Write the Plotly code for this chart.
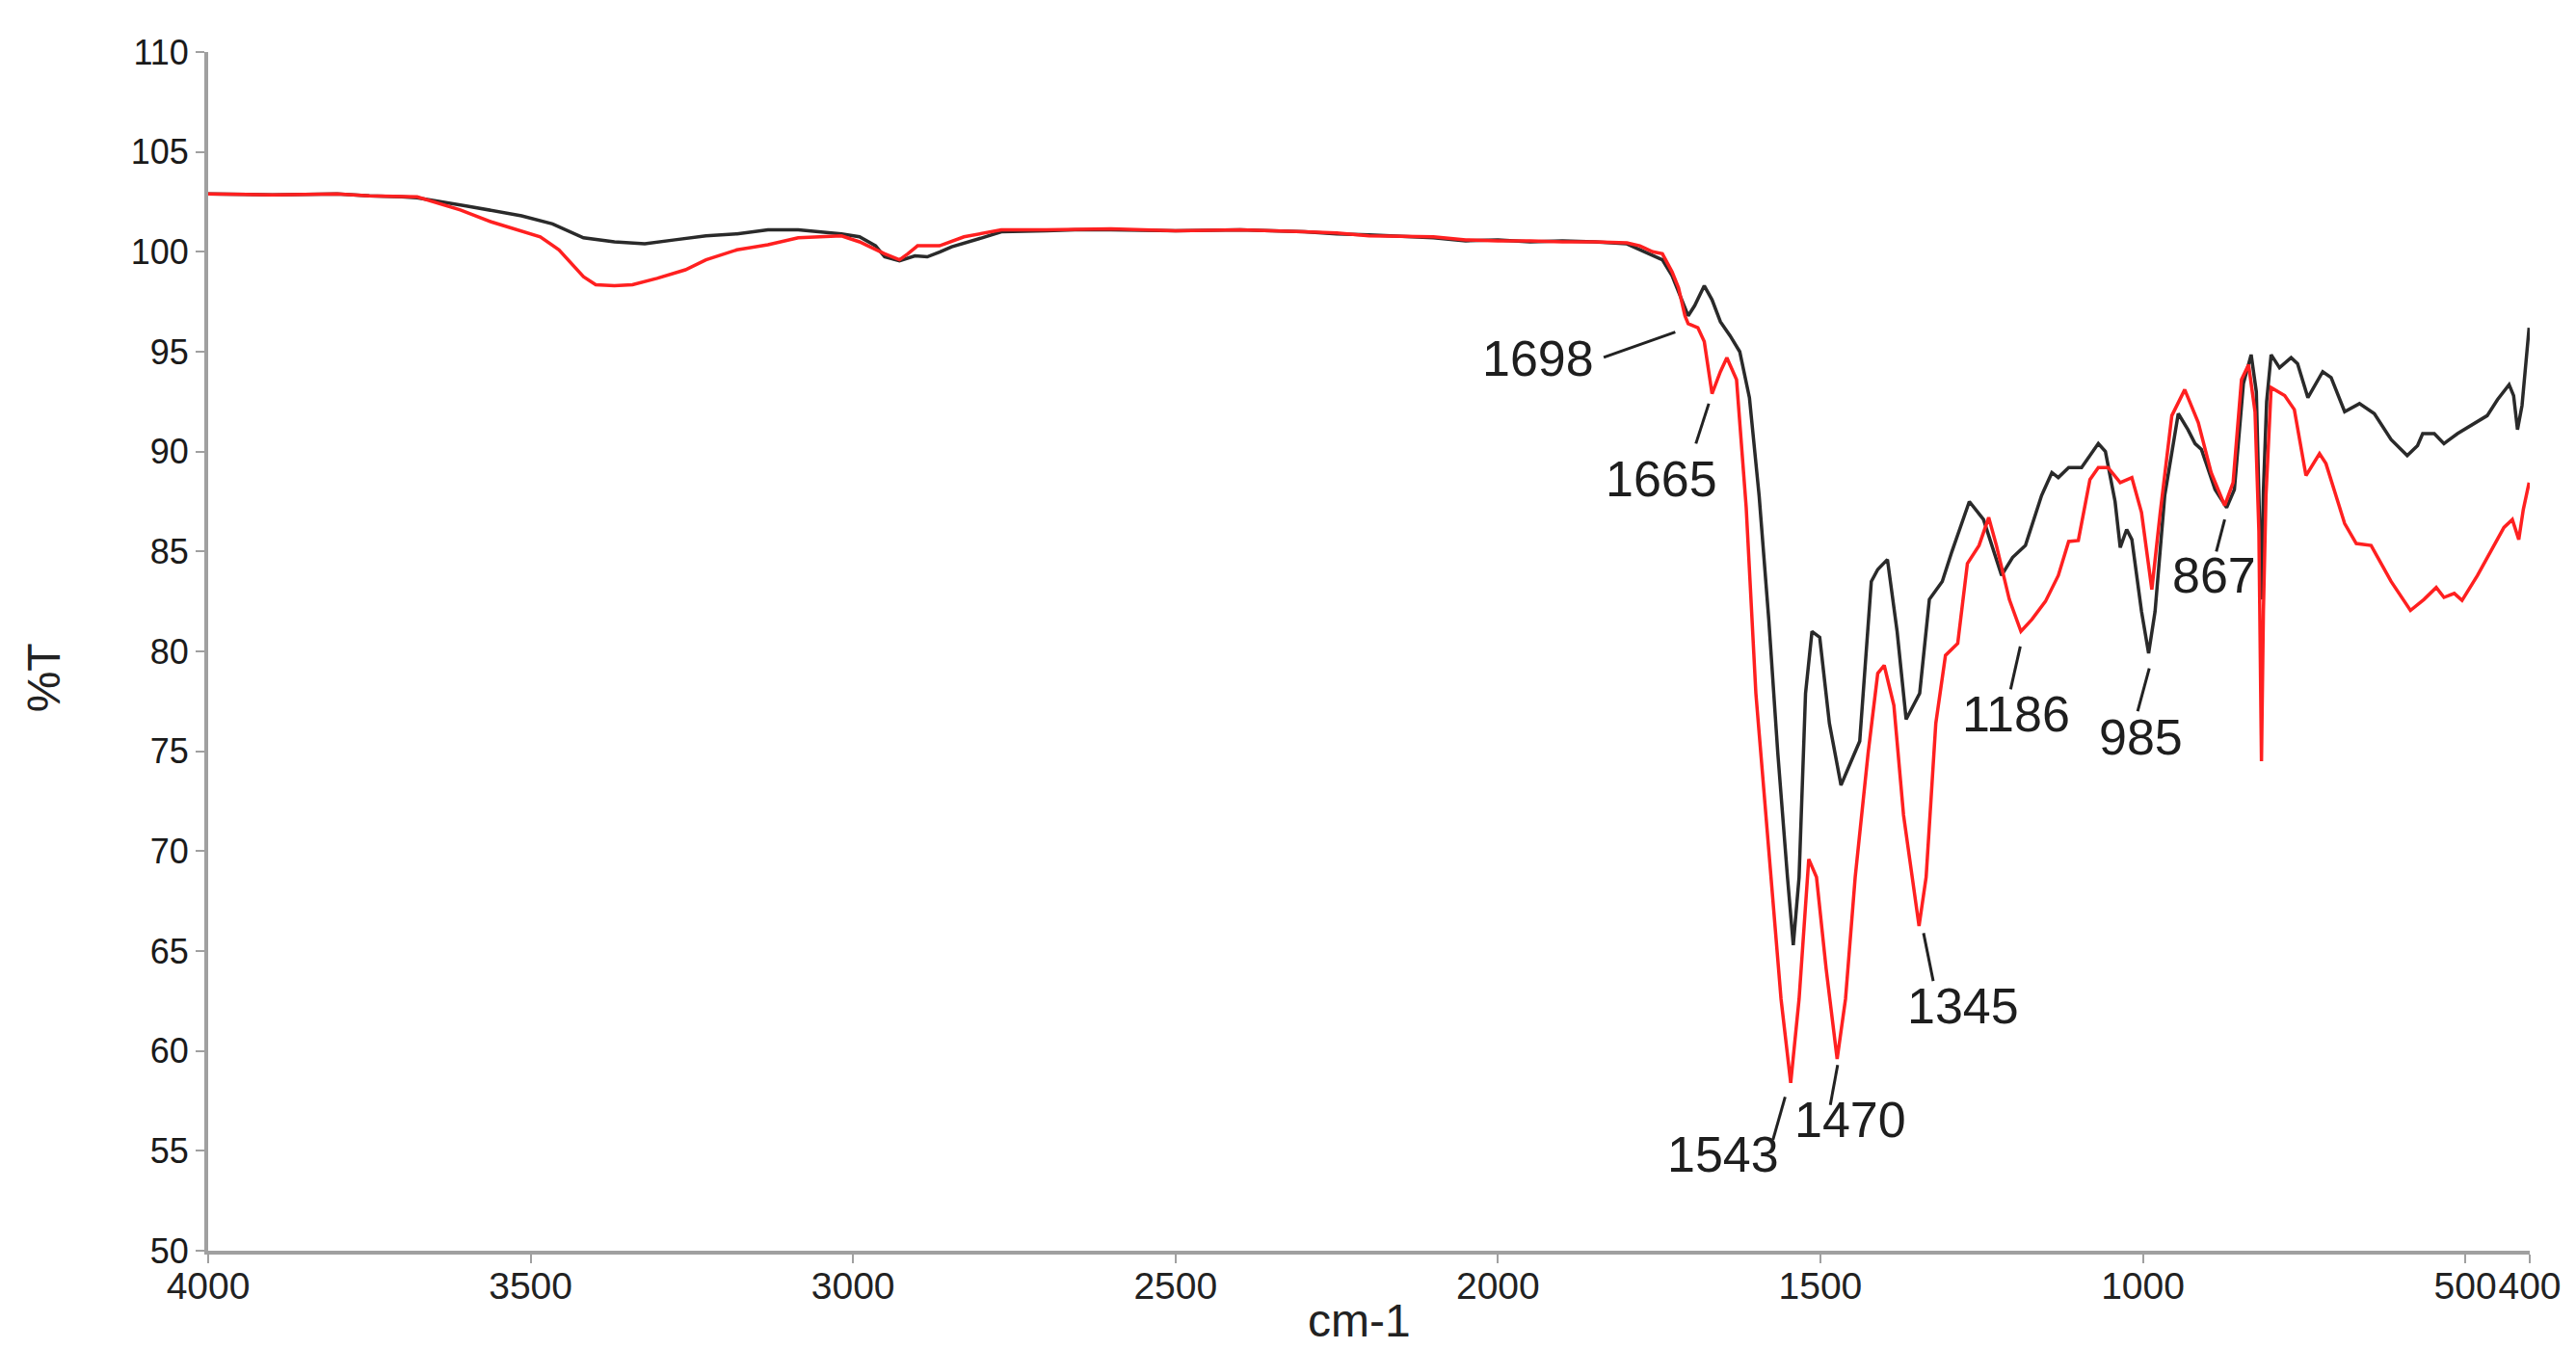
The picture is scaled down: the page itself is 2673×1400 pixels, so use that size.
import plotly.graph_objects as go

# ---------------- data ----------------
wn_black = [4000, 3900, 3800, 3750, 3700, 3676, 3600, 3514, 3466, 3418, 3370, 3323, 3276, 3228, 3180,
            3132, 3085, 3018, 2990, 2965, 2951, 2928, 2904, 2885, 2865, 2847, 2800, 2770, 2700, 2656,
            2600, 2500, 2400, 2300, 2250, 2200, 2100, 2050, 2000, 1950, 1900, 1850, 1800, 1780, 1760,
            1745, 1730, 1718, 1705, 1695, 1680, 1668, 1655, 1640, 1625, 1610, 1595, 1580, 1566, 1551,
            1542, 1533, 1523, 1513, 1501, 1486, 1468, 1451, 1439, 1421, 1411, 1396, 1381, 1367, 1346,
            1331, 1311, 1296, 1269, 1247, 1219, 1202, 1182, 1157, 1141, 1131, 1115, 1095, 1069, 1058,
            1043, 1035, 1025, 1017, 1002, 991, 981, 966, 945, 930, 919, 909, 888, 870, 858,
            844, 832, 824, 818, 816, 813, 808, 801, 788, 770, 760, 744, 721, 708, 687,
            664, 641, 615, 590, 574, 566, 548, 533, 512, 487, 466, 450, 432, 425, 419,
            412, 401]
t_black = [102.9, 102.85, 102.9, 102.8, 102.75, 102.7, 102.3, 101.8, 101.4, 100.7, 100.5, 100.4, 100.6, 100.8, 100.9,
           101.1, 101.1, 100.9, 100.75, 100.3, 99.75, 99.55, 99.8, 99.75, 100.0, 100.25, 100.7, 101.0, 101.05, 101.1,
           101.1, 101.05, 101.1, 101.0, 100.9, 100.85, 100.7, 100.55, 100.6, 100.5, 100.55, 100.5, 100.4, 100.1, 99.8,
           99.6, 98.8, 97.8, 96.8, 97.3, 98.3, 97.6, 96.5, 95.8, 95.0, 92.7, 87.8, 81.6, 74.9, 68.7,
           65.3, 68.7, 77.9, 81.0, 80.7, 76.4, 73.3, 74.6, 75.5, 83.5, 84.1, 84.6, 81.0, 76.6, 77.9,
           82.6, 83.5, 85.0, 87.5, 86.6, 83.8, 84.7, 85.3, 87.8, 88.95, 88.7, 89.2, 89.2, 90.4, 90.0,
           87.5, 85.2, 86.1, 85.6, 82.0, 79.9, 82.0, 87.8, 91.9, 91.1, 90.4, 90.1, 88.1, 87.2, 88.1,
           93.4, 94.85, 93.0, 85.0, 82.6, 88.0, 92.5, 94.85, 94.2, 94.7, 94.4, 92.7, 94.0, 93.7, 92.0,
           92.4, 91.9, 90.6, 89.8, 90.3, 90.9, 90.9, 90.4, 90.9, 91.4, 91.8, 92.6, 93.35, 92.8, 91.1,
           92.3, 96.2]

wn_red = [4000, 3900, 3800, 3750, 3676, 3609, 3561, 3485, 3456, 3418, 3399, 3370, 3342, 3304, 3260,
          3228, 3180, 3132, 3085, 3018, 2990, 2951, 2928, 2915, 2900, 2866, 2828, 2770, 2700, 2600,
          2500, 2400, 2300, 2250, 2200, 2100, 2050, 2000, 1950, 1900, 1850, 1800, 1780, 1760, 1745,
          1730, 1720, 1710, 1705, 1697, 1690, 1680, 1668, 1655, 1645, 1630, 1615, 1600, 1580, 1561,
          1546, 1533, 1518, 1506, 1491, 1474, 1461, 1446, 1426, 1411, 1401, 1386, 1371, 1347, 1336,
          1321, 1306, 1287, 1272, 1254, 1239, 1227, 1207, 1189, 1172, 1151, 1131, 1115, 1100, 1082,
          1069, 1054, 1035, 1017, 1002, 986, 973, 955, 935, 914, 894, 873, 860, 847, 836,
          826, 820, 816, 813, 809, 801, 780, 765, 747, 726, 716, 687, 669, 646, 615,
          585, 564, 545, 533, 517, 505, 481, 455, 440, 427, 417, 410, 401]
t_red = [102.9, 102.85, 102.9, 102.8, 102.75, 102.1, 101.5, 100.75, 100.1, 98.75, 98.35, 98.3, 98.35, 98.67, 99.1,
         99.6, 100.1, 100.35, 100.7, 100.8, 100.5, 99.9, 99.6, 99.9, 100.3, 100.3, 100.75, 101.1, 101.1, 101.15,
         101.05, 101.1, 101.0, 100.95, 100.8, 100.75, 100.6, 100.55, 100.55, 100.5, 100.5, 100.45, 100.3, 100.0, 99.9,
         99.0, 98.2, 96.8, 96.4, 96.3, 96.2, 95.5, 92.9, 94.0, 94.7, 93.6, 87.2, 77.9, 70.2, 62.6,
         58.4, 62.6, 69.6, 68.7, 64.1, 59.6, 62.6, 68.7, 74.9, 78.9, 79.3, 77.3, 71.8, 66.25, 68.7,
         76.4, 79.8, 80.4, 84.4, 85.3, 86.7, 85.3, 82.6, 81.0, 81.6, 82.5, 83.8, 85.5, 85.55, 88.6,
         89.2, 89.2, 88.45, 88.7, 86.95, 83.1, 86.95, 91.8, 93.1, 91.45, 88.95, 87.3, 88.45, 93.6, 94.35,
         92.0, 86.0, 74.5, 82.0, 87.8, 93.2, 92.8, 92.1, 88.8, 89.9, 89.4, 86.4, 85.4, 85.3, 83.5,
         82.05, 82.6, 83.2, 82.7, 82.9, 82.55, 83.8, 85.3, 86.2, 86.6, 85.6, 87.1, 88.45]

x_ticks = [4000, 3500, 3000, 2500, 2000, 1500, 1000, 500, 400]
y_ticks = [50, 55, 60, 65, 70, 75, 80, 85, 90, 95, 100, 105, 110]

# peak labels: text, text position (wavenumber, %T), leader line start and end
peak_labels = ["1698", "1665", "1543", "1470", "1345", "1186", "985", "867"]
label_x = [1937, 1746, 1651, 1453, 1279, 1196, 1003, 889]
label_y = [94.67, 88.65, 54.8, 56.55, 62.26, 76.85, 75.7, 83.8]
lead_x0 = [1836, 1693, 1573.5, 1484.6, 1325, 1205, 1008, 886]
lead_y0 = [94.72, 90.4, 55.55, 57.3, 63.5, 78.1, 77.0, 85.0]
lead_x1 = [1725, 1673, 1554.6, 1473.2, 1340, 1190, 990, 873]
lead_y1 = [95.98, 92.4, 57.7, 59.3, 65.9, 80.25, 79.15, 86.6]

# ---------------- figure ----------------
fig = go.Figure()
fig.add_trace(go.Scatter(x=wn_black, y=t_black, mode="lines",
                         line=dict(color="#2a2a2a", width=3.5), showlegend=False, hoverinfo="skip"))
fig.add_trace(go.Scatter(x=wn_red, y=t_red, mode="lines",
                         line=dict(color="#ff2020", width=3.5), showlegend=False, hoverinfo="skip"))

label_font = dict(family="Liberation Sans Narrow, Arial Narrow, Liberation Sans, Arial",
                  size=52, color="#1e1e1e")
annotations = []
for txt, lx, ly in zip(peak_labels, label_x, label_y):
    annotations.append(dict(x=lx, y=ly, xref="x", yref="y", text=txt, showarrow=False,
                            xanchor="center", yanchor="middle", font=label_font))
shapes = []
for x0, y0, x1, y1 in zip(lead_x0, lead_y0, lead_x1, lead_y1):
    shapes.append(dict(type="line", xref="x", yref="y", x0=x0, y0=y0, x1=x1, y1=y1,
                       line=dict(color="#222222", width=3)))

annotations.append(dict(x=0.496, y=-0.058, xref="paper", yref="paper", text="cm-1", showarrow=False,
                        xanchor="center", yanchor="middle",
                        font=dict(family="Liberation Sans, Arial", size=48, color="#222")))
annotations.append(dict(x=-0.071, y=0.478, xref="paper", yref="paper", text="%T", showarrow=False,
                        textangle=-90, xanchor="center", yanchor="middle",
                        font=dict(family="Liberation Sans, Arial", size=48, color="#222")))

fig.update_layout(
    width=2673, height=1400,
    margin=dict(l=208, r=56, t=46, b=110),
    paper_bgcolor="white", plot_bgcolor="white",
    annotations=annotations, shapes=shapes,
    hovermode=False,
)
fig.update_xaxes(range=[4000, 400], tickvals=x_ticks, ticktext=[str(v) for v in x_ticks],
                 tickangle=0, ticks="outside", ticklen=9, tickwidth=2, tickcolor="#a0a0a0",
                 ticklabelstandoff=-10,
                 showline=True, linecolor="#a0a0a0", linewidth=4, showgrid=False, zeroline=False,
                 tickfont=dict(family="Liberation Sans, Arial", size=39, color="#222"))
fig.update_yaxes(range=[50, 110], tickvals=y_ticks, ticks="outside", ticklen=9, tickwidth=2,
                 tickcolor="#a0a0a0", showline=True, linecolor="#a0a0a0", linewidth=4,
                 showgrid=False, zeroline=False,
                 tickfont=dict(family="Liberation Sans, Arial", size=36, color="#1a1a1a"))

fig.write_html("out.html")
